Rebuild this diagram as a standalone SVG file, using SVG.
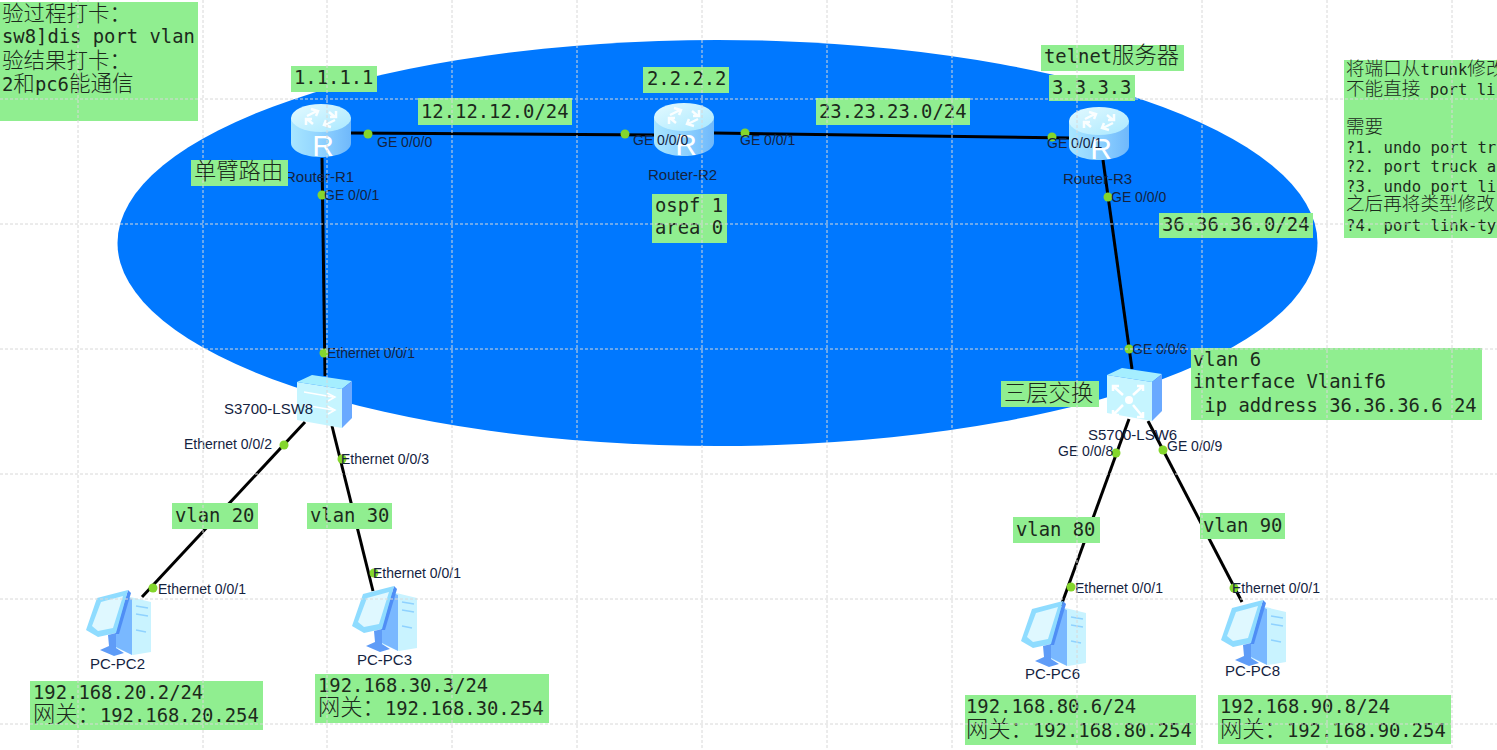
<svg xmlns="http://www.w3.org/2000/svg" xmlns:xlink="http://www.w3.org/1999/xlink" width="1497" height="750" viewBox="0 0 1497 750">
<style>
.m{font-family:"DejaVu Sans Mono","Liberation Mono","Noto Sans CJK SC",monospace;font-size:18.85px;fill:#1c2a1c}
.c{font-family:"Noto Sans CJK SC",sans-serif;font-size:22.3px;font-weight:300}
.c2{font-family:"Noto Sans CJK SC",sans-serif;font-size:21.5px;font-weight:300}
.s{font-size:15.6px}
.c3{font-family:"Noto Sans CJK SC",sans-serif;font-size:18.6px;font-weight:300}
.p{fill:#90ee90}
.l{stroke:#000;stroke-width:3;fill:none}
.d{fill:#84d62c}
.t{font-family:"Liberation Sans",Arial,sans-serif;font-size:14px;fill:#14233f}
.n{font-family:"Liberation Sans",Arial,sans-serif;font-size:15px;fill:#14233f}
.g{stroke:#d8d8d8;stroke-width:1;stroke-dasharray:3 2;fill:none}
</style>
<defs>
<linearGradient id="rb" x1="0" x2="1" y1="0" y2="0"><stop offset="0" stop-color="#a8e6ff"/><stop offset=".5" stop-color="#8fd2ff"/><stop offset="1" stop-color="#6fb8fb"/></linearGradient>
<linearGradient id="rt" x1="0" x2="1" y1="0" y2="1"><stop offset="0" stop-color="#e4faff"/><stop offset="1" stop-color="#a9e8ff"/></linearGradient>
<g id="router">
<path d="M0 14V39C0 47 13 53 30 53S60 47 60 39V14Z" fill="url(#rb)"/>
<ellipse cx="30" cy="14" rx="30" ry="14" fill="url(#rt)"/>
<g stroke="#fff" stroke-width="2.5" fill="none" opacity=".9">
<path d="M16 12L26 7M20 5L27 7L25 12M44 16L34 21M40 23L33 21L35 16M22 20L16 15M15 21V15H21M38 8L44 13M45 7V13H39"/>
</g>
<text x="32" y="52" font-family="Liberation Sans,Arial,sans-serif" font-size="30" fill="#fff" text-anchor="middle">R</text>
</g>
<g id="switch">
<polygon points="0,7 15,0 55,6 45,14" fill="#a5eeff"/>
<polygon points="0,7 45,14 45,53 0,45" fill="#c6f5ff"/>
<polygon points="45,14 55,6 55,43 45,53" fill="#6aa9ff"/>
</g>
<g id="pc">
<polygon points="36,5 65,12 65,62 47,65 30,58" fill="#c9f3ff"/>
<polygon points="36,5 46,9 46,65 28,56" fill="#79b8ff"/>
<path d="M50 16L62 18M50 24L62 26M50 40L60 42" stroke="#8fd2ff" stroke-width="1.5" fill="none"/>
<polygon points="42,0 45,3 33,44 29,44" fill="#4f8ef5"/>
<polygon points="0,40 11,8 42,0 30,43 12,47" fill="#8fdcff"/>
<polygon points="6,36 15,12 37,6 27,38 12,41" fill="#dff8ff"/>
<polygon points="22,45 30,43 30,58 38,63 28,66 14,60 23,56" fill="#5f9cf7"/>
</g>
</defs>

<ellipse cx="717.5" cy="243" rx="600" ry="203" fill="#0078ff"/>

<g id="connectors">
<line class="l" x1="350" y1="133" x2="655" y2="135"/>
<line class="l" x1="714" y1="133" x2="1070" y2="138"/>
<line class="l" x1="322" y1="158" x2="325" y2="376"/>
<line class="l" x1="1103" y1="160" x2="1132" y2="369"/>
<line class="l" x1="305" y1="422" x2="142" y2="597"/>
<line class="l" x1="332" y1="426" x2="373" y2="591"/>
<line class="l" x1="1129" y1="419" x2="1061" y2="606"/>
<line class="l" x1="1148" y1="421" x2="1242" y2="602"/>
<g>
<circle class="d" cx="368" cy="134" r="4.5"/><circle class="d" cx="625" cy="134" r="4.5"/>
<circle class="d" cx="745" cy="133" r="4.5"/><circle class="d" cx="1052" cy="137" r="4.5"/>
<circle class="d" cx="322" cy="195" r="4.5"/><circle class="d" cx="324" cy="353" r="4.5"/>
<circle class="d" cx="1108" cy="197" r="4.5"/><circle class="d" cx="1129" cy="349" r="4.5"/>
<circle class="d" cx="284" cy="445" r="4.5"/><circle class="d" cx="153" cy="588" r="4.5"/>
<circle class="d" cx="342" cy="459" r="4.5"/><circle class="d" cx="374" cy="573" r="4.5"/>
<circle class="d" cx="1116" cy="453" r="4.5"/><circle class="d" cx="1071" cy="587" r="4.5"/>
<circle class="d" cx="1163" cy="450" r="4.5"/><circle class="d" cx="1234" cy="588" r="4.5"/>
</g>
</g>

<g id="router-r1"><use href="#router" x="291" y="104"/><text class="n" x="285" y="182">Router-R1</text></g>
<g id="router-r2"><use href="#router" x="654" y="103"/><text class="n" x="648" y="180">Router-R2</text></g>
<g id="router-r3"><use href="#router" x="1069" y="107"/><text class="n" x="1063" y="184">Router-R3</text></g>
<g id="s3700-lsw8"><use href="#switch" x="297" y="375"/>
<path d="M304 392L333 397M327 393L335 397L328 401M304 405L333 410M327 406L335 410L328 414" stroke="#fff" stroke-width="1.5" fill="none"/>
<text class="n" x="224" y="414">S3700-LSW8</text></g>
<g id="s5700-lsw6"><use href="#switch" x="1107" y="368"/>
<path d="M1113 386L1123 395M1113 391V386H1119M1143 386L1133 395M1143 391V386H1137M1113 415L1123 405M1113 410V415H1119M1143 417L1133 405M1143 412V417H1137" stroke="#fff" stroke-width="2.5" fill="none"/>
<circle cx="1129" cy="400" r="4" fill="#fff"/>
<text class="n" x="1088" y="440">S5700-LSW6</text></g>
<g id="pc-pc2"><use href="#pc" x="86" y="590"/><text class="n" x="90" y="669">PC-PC2</text></g>
<g id="pc-pc3"><use href="#pc" x="352" y="586"/><text class="n" x="357" y="665">PC-PC3</text></g>
<g id="pc-pc6"><use href="#pc" x="1021" y="601"/><text class="n" x="1025" y="679">PC-PC6</text></g>
<g id="pc-pc8"><use href="#pc" x="1221" y="600"/><text class="n" x="1225" y="676">PC-PC8</text></g>

<g id="port-labels">
<text class="t" x="377" y="147">GE 0/0/0</text>
<text class="t" x="633" y="145">GE 0/0/0</text>
<text class="t" x="740" y="145">GE 0/0/1</text>
<text class="t" x="1047" y="148">GE 0/0/1</text>
<text class="t" x="324" y="200">GE 0/0/1</text>
<text class="t" x="1111" y="202">GE 0/0/0</text>
<text class="t" x="327" y="358">Ethernet 0/0/1</text>
<text class="t" x="1132" y="354">GE 0/0/6</text>
<text class="t" x="184" y="449">Ethernet 0/0/2</text>
<text class="t" x="341" y="464">Ethernet 0/0/3</text>
<text class="t" x="158" y="594">Ethernet 0/0/1</text>
<text class="t" x="373" y="578">Ethernet 0/0/1</text>
<text class="t" x="1058" y="456">GE 0/0/8</text>
<text class="t" x="1167" y="451">GE 0/0/9</text>
<text class="t" x="1075" y="593">Ethernet 0/0/1</text>
<text class="t" x="1232" y="593">Ethernet 0/0/1</text>
</g>

<g id="note-verify"><rect class="p" x="0" y="2" width="198" height="119"/>
<text class="m" x="2" y="21"><tspan class="c2">验过程打卡：</tspan></text>
<text class="m" x="2" y="43">sw8]dis port vlan</text>
<text class="m" x="2" y="68"><tspan class="c2">验结果打卡：</tspan></text>
<text class="m" x="2" y="91">2<tspan class="c2">和</tspan>pc6<tspan class="c2">能通信</tspan></text></g>

<g id="label-1111"><rect class="p" x="291" y="66" width="86" height="26"/><text class="m" x="294" y="84">1.1.1.1</text></g>
<g id="label-2222"><rect class="p" x="643" y="67" width="86" height="26"/><text class="m" x="647" y="85">2.2.2.2</text></g>
<g id="label-3333"><rect class="p" x="1049" y="75" width="86" height="26"/><text class="m" x="1052" y="94">3.3.3.3</text></g>
<g id="label-telnet"><rect class="p" x="1041" y="45" width="143" height="26"/><text class="m" x="1044" y="63">telnet<tspan class="c">服务器</tspan></text></g>
<g id="label-net12"><rect class="p" x="418" y="98" width="154" height="27"/><text class="m" x="421" y="118">12.12.12.0/24</text></g>
<g id="label-net23"><rect class="p" x="816" y="98" width="154" height="27"/><text class="m" x="819" y="118">23.23.23.0/24</text></g>
<g id="label-net36"><rect class="p" x="1159" y="213" width="154" height="25"/><text class="m" x="1162" y="231">36.36.36.0/24</text></g>
<g id="label-arm"><rect class="p" x="191" y="160" width="97" height="26"/><text class="m" x="194" y="179"><tspan class="c">单臂路由</tspan></text></g>
<g id="label-ospf"><rect class="p" x="652" y="194" width="75" height="49"/><text class="m" x="655" y="212">ospf 1</text><text class="m" x="655" y="234">area 0</text></g>
<g id="label-l3"><rect class="p" x="1001" y="381" width="98" height="26"/><text class="m" x="1004" y="401"><tspan class="c">三层交换</tspan></text></g>
<g id="note-vlanif"><rect class="p" x="1191" y="348" width="291" height="72"/>
<text class="m" x="1193" y="366">vlan 6</text><text class="m" x="1193" y="388">interface Vlanif6</text><text class="m" x="1193" y="412" xml:space="preserve"> ip address 36.36.36.6 24</text></g>
<g id="label-vlan20"><rect class="p" x="172" y="503" width="86" height="26"/><text class="m" x="175" y="522">vlan 20</text></g>
<g id="label-vlan30"><rect class="p" x="307" y="503" width="85" height="26"/><text class="m" x="310" y="522">vlan 30</text></g>
<g id="label-vlan80"><rect class="p" x="1013" y="517" width="87" height="26"/><text class="m" x="1016" y="536">vlan 80</text></g>
<g id="label-vlan90"><rect class="p" x="1200" y="513" width="85" height="26"/><text class="m" x="1203" y="532">vlan 90</text></g>

<g id="addr-pc2"><rect class="p" x="30" y="681" width="233" height="49"/><text class="m" x="33" y="699">192.168.20.2/24</text><text class="m" x="33" y="722"><tspan class="c">网关：</tspan>192.168.20.254</text></g>
<g id="addr-pc3"><rect class="p" x="315" y="674" width="234" height="49"/><text class="m" x="318" y="692">192.168.30.3/24</text><text class="m" x="318" y="715"><tspan class="c">网关：</tspan>192.168.30.254</text></g>
<g id="addr-pc6"><rect class="p" x="965" y="695" width="231" height="50"/><text class="m" x="966" y="713">192.168.80.6/24</text><text class="m" x="966" y="737"><tspan class="c">网关：</tspan>192.168.80.254</text></g>
<g id="addr-pc8"><rect class="p" x="1218" y="695" width="233" height="49"/><text class="m" x="1220" y="713">192.168.90.8/24</text><text class="m" x="1220" y="737"><tspan class="c">网关：</tspan>192.168.90.254</text></g>

<g id="note-trunk"><rect class="p" x="1344" y="60" width="153" height="178"/>
<text class="m s" x="1346" y="75"><tspan class="c3">将端口从</tspan>trunk<tspan class="c3">修改</tspan></text>
<text class="m s" x="1346" y="95"><tspan class="c3">不能直接</tspan> port li</text>
<text class="m s" x="1346" y="133"><tspan class="c3">需要</tspan></text>
<text class="m s" x="1346" y="153">?1. undo port tr</text>
<text class="m s" x="1346" y="172">?2. port truck a</text>
<text class="m s" x="1346" y="192">?3. undo port li</text>
<text class="m s" x="1346" y="210"><tspan class="c3">之后再将类型修改</tspan></text>
<text class="m s" x="1346" y="231">?4. port link-ty</text></g>

<path id="grid" class="g" d="M78 0V750M203 0V750M327 0V750M452 0V750M577 0V750M702 0V750M827 0V750M952 0V750M1077 0V750M1202 0V750M1327 0V750M1452 0V750M0 99H1497M0 224H1497M0 349H1497M0 474H1497M0 599H1497M0 724H1497"/>
</svg>
